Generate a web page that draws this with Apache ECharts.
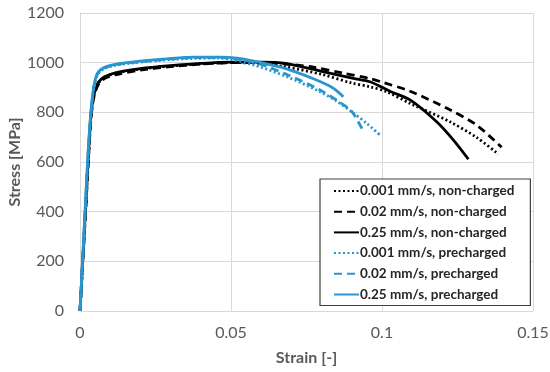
<!DOCTYPE html>
<html><head><meta charset="utf-8">
<script src="https://cdn.jsdelivr.net/npm/echarts@6/dist/echarts.min.js"></script>
<style>html,body{margin:0;padding:0;background:#fff}#c{width:550px;height:372px}</style>
</head><body><div id="c"></div>
<script>
const seriesNames = ['0.001 mm/s, non-charged','0.02 mm/s, non-charged','0.25 mm/s, non-charged','0.001 mm/s, precharged','0.02 mm/s, precharged','0.25 mm/s, precharged'];
const xTicks = [0, 0.05, 0.1, 0.15];
const yTicks = [0, 200, 400, 600, 800, 1000, 1200];

const strainNC001 = [0,0.001,0.002,0.0027,0.0035,0.0042,0.005,0.006,0.008,0.012,0.02,0.03,0.04,0.05,0.06,0.068,0.08,0.09,0.096,0.1015,0.1093,0.1225,0.1313,0.1385];
const stressNC001 = [0,220,440,600,760,840,885,915,940,958,974,986,995,1000,997,983,953,918,903,883,836,762,699,632];

const strainNC002 = [0,0.001,0.002,0.0027,0.0035,0.0042,0.005,0.006,0.008,0.012,0.02,0.03,0.04,0.05,0.06,0.07,0.0773,0.087,0.096,0.1004,0.1093,0.1225,0.1313,0.1396];
const stressNC002 = [0,215,430,590,750,835,880,910,935,952,970,984,994,1000,1000,992,982,958,936,920,885,810,749,659];

const strainNC025 = [0,0.001,0.002,0.0027,0.0035,0.0042,0.005,0.006,0.008,0.012,0.02,0.03,0.04,0.05,0.06,0.068,0.08,0.0905,0.096,0.1026,0.1093,0.1181,0.1236,0.1286];
const stressNC025 = [0,225,450,610,770,850,890,920,942,960,976,988,997,1002,1002,997,965,937,923,885,850,762,689,611];

const strainPC001 = [0,0.001,0.002,0.0025,0.003,0.0036,0.0045,0.0055,0.0065,0.008,0.0105,0.0155,0.0265,0.0375,0.046,0.0574,0.0684,0.0795,0.085,0.0905,0.095,0.0993];
const stressPC001 = [0,235,470,590,690,790,890,942,962,975,986,996,1009,1017,1018,991,944,883,845,797,755,709];

const strainPC002 = [0,0.001,0.002,0.0025,0.003,0.0036,0.0045,0.0055,0.0065,0.008,0.0105,0.0155,0.0265,0.0375,0.047,0.058,0.068,0.0795,0.0885,0.0905,0.0938];
const stressPC002 = [0,238,475,595,695,795,895,946,965,978,988,998,1011,1020,1020,1000,955,890,820,795,725];

const strainPC025 = [0,0.001,0.002,0.0025,0.003,0.0036,0.0045,0.0055,0.0065,0.008,0.0105,0.0155,0.0265,0.0375,0.0464,0.052,0.058,0.0684,0.0773,0.0835,0.0872];
const stressPC025 = [0,240,480,600,700,800,900,950,968,980,990,1000,1013,1022,1022,1018,1005,975,935,900,863];

const BLUE = '#2a96cf';
const FONT = 'Lato';

function pairs(xs, ys){ return xs.map((x,i)=>[x, ys[i]]); }
const dataSets = [
  pairs(strainNC001, stressNC001), pairs(strainNC002, stressNC002), pairs(strainNC025, stressNC025),
  pairs(strainPC001, stressPC001), pairs(strainPC002, stressPC002), pairs(strainPC025, stressPC025)
];
const colors = ['#000','#000','#000',BLUE,BLUE,BLUE];
const types = [[2,2.5],[8,5],'solid',[2,2.5],[8,5],'solid'];

const chart = echarts.init(document.getElementById('c'), null, {renderer:'canvas'});
chart.setOption({
  animation:false,
  grid:{left:80, right:17, top:13, bottom:61, containLabel:false, outerBoundsMode:'none'},
  xAxis:{
    type:'value', min:0, max:0.15, interval:0.05,
    name:'Strain [-]', nameLocation:'middle', nameGap:39, nameMoveOverlap:false,
    nameTextStyle:{fontFamily:FONT, fontWeight:'bold', fontSize:16, color:'#595959'},
    axisLine:{show:true, lineStyle:{color:'#d9d9d9', width:1}},
    axisTick:{show:false},
    axisLabel:{fontFamily:FONT, fontSize:16, color:'#595959', margin:14, formatter:v=>String(v)},
    splitLine:{show:true, lineStyle:{color:'#d9d9d9', width:1}}
  },
  yAxis:{
    type:'value', min:0, max:1200, interval:200,
    name:'Stress [MPa]', nameLocation:'middle', nameGap:57, nameRotate:90, nameMoveOverlap:false,
    nameTextStyle:{fontFamily:FONT, fontWeight:'bold', fontSize:16, color:'#595959'},
    axisLine:{show:true, lineStyle:{color:'#d9d9d9', width:1}},
    axisTick:{show:false},
    axisLabel:{fontFamily:FONT, fontSize:16, color:'#595959', margin:16, formatter:v=>String(v)},
    splitLine:{show:true, lineStyle:{color:'#d9d9d9', width:1}}
  },
  legend:{
    orient:'vertical', left:320, top:179,
    itemWidth:25, itemHeight:14, itemGap:6.7,
    padding:[5,16,4,13],
    borderColor:'#404040', borderWidth:1.2, backgroundColor:'#fff',
    itemStyle:{opacity:0},
    textStyle:{fontFamily:FONT, fontWeight:'bold', fontSize:13.5, color:'#262626', padding:[0,0,0,-4]},
    data:seriesNames
  },
  series: seriesNames.map((n,i)=>({
    name:n, type:'line', data:dataSets[i], showSymbol:false, symbol:'none', smooth:0.3,
    lineStyle:{color:colors[i], width:2.8, type:types[i]},
    itemStyle:{color:colors[i]}
  }))
});
</script></body></html>
